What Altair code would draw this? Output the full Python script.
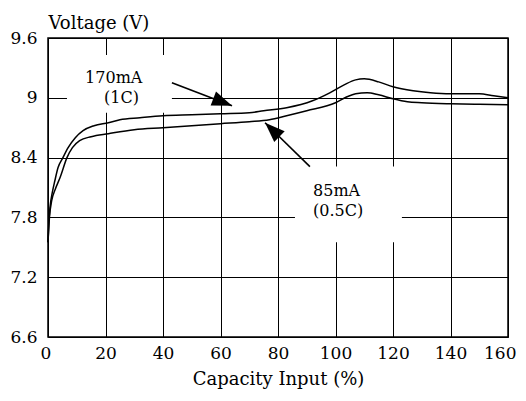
import altair as alt
import pandas as pd

# 170mA (1C) curve
x_1c = [0, 0.3, 0.7, 1.5, 2.4, 3.5, 5.2, 7, 9.5, 12.2, 16, 21, 25, 32, 40, 50, 60, 70, 75, 83, 92, 98, 103, 107, 110, 115, 120, 127, 133, 140, 150, 155, 160]
v_1c = [7.55, 7.75, 7.9, 8.05, 8.17, 8.3, 8.4, 8.5, 8.6, 8.67, 8.72, 8.75, 8.78, 8.80, 8.82, 8.83, 8.84, 8.85, 8.87, 8.90, 8.97, 9.05, 9.13, 9.18, 9.19, 9.16, 9.11, 9.07, 9.05, 9.04, 9.04, 9.02, 9.00]
# 85mA (0.5C) curve
x_05c = [0, 0.5, 1.3, 2.5, 4.2, 6.6, 8.5, 11, 15, 21, 30, 40, 50, 60, 70, 77, 83, 90, 100, 104, 107, 111, 115, 120, 125, 130, 140, 150, 160]
v_05c = [7.55, 7.8, 7.97, 8.08, 8.2, 8.4, 8.5, 8.57, 8.61, 8.64, 8.68, 8.70, 8.72, 8.74, 8.76, 8.78, 8.82, 8.87, 8.95, 9.01, 9.04, 9.05, 9.03, 8.99, 8.96, 8.95, 8.94, 8.935, 8.93]

x_ticks = [0, 20, 40, 60, 80, 100, 120, 140, 160]
y_ticks = [6.6, 7.2, 7.8, 8.4, 9.0, 9.6]

# annotation label boxes (white) and texts
box_x = [6.6, 85.9]
box_x2 = [43.1, 123.1]
box_y = [9.43, 8.31]
box_y2 = [8.85, 7.55]

label_text = ["170mA", "(1C)", "85mA", "(0.5C)"]
label_x = [12.9, 19.5, 92.2, 92.2]
label_y = [9.15, 8.95, 8.01, 7.81]

arrow_x = [43.1, 91.1]
arrow_y = [9.15, 8.31]
arrow_tx = [64.0, 75.5]
arrow_ty = [8.92, 8.75]
arrow_angle = [21, 224]

FONT = "DejaVu Serif"

curves = pd.concat([
    pd.DataFrame({"x": x_1c, "v": v_1c, "s": "1C"}),
    pd.DataFrame({"x": x_05c, "v": v_05c, "s": "0.5C"}),
])
boxes = pd.DataFrame({"x": box_x, "x2": box_x2, "y": box_y, "y2": box_y2})
labels = pd.DataFrame({"t": label_text, "x": label_x, "y": label_y})
arrows = pd.DataFrame({"x": arrow_x, "y": arrow_y, "tx": arrow_tx, "ty": arrow_ty, "a": arrow_angle})

xs = alt.Scale(domain=[0, 160], nice=False)
ys = alt.Scale(domain=[6.6, 9.6], nice=False)

xaxis = alt.Axis(values=x_ticks, title="Capacity Input (%)", tickSize=0, labelPadding=8,
                 titlePadding=9, domain=False, grid=True, labelFontSize=17, titleFontSize=18,
                 labelFlush=True, labelFlushOffset=8, labelOverlap=False,
                 labelFont=FONT, titleFont=FONT, labelColor="black", titleColor="black",
                 titleFontWeight="normal", gridColor="black", gridOpacity=1, gridWidth=1)
yaxis = alt.Axis(values=y_ticks, title="Voltage (V)", format="~g", tickSize=0, labelPadding=11,
                 domain=False, grid=True, labelFontSize=17, titleFontSize=18,
                 labelFlush=False, labelOverlap=False,
                 labelFont=FONT, titleFont=FONT, labelColor="black", titleColor="black",
                 titleFontWeight="normal", titleAngle=0, titleAlign="left", titleBaseline="bottom",
                 titleX=0, titleY=-6, gridColor="black", gridOpacity=1, gridWidth=1)

base_axes = alt.Chart(curves).mark_line(opacity=0).encode(
    x=alt.X("x:Q", scale=xs, axis=xaxis),
    y=alt.Y("v:Q", scale=ys, axis=yaxis),
)

box_layer = alt.Chart(boxes).mark_rect(color="white").encode(
    x=alt.X("x:Q", scale=xs), x2="x2", y=alt.Y("y:Q", scale=ys), y2="y2"
)

lines = alt.Chart(curves).mark_line(color="black", strokeWidth=1.5, interpolate="monotone").encode(
    x=alt.X("x:Q", scale=xs),
    y=alt.Y("v:Q", scale=ys),
    detail="s:N",
)

arrow_lines = alt.Chart(arrows).mark_rule(color="black", strokeWidth=1.6).encode(
    x=alt.X("x:Q", scale=xs), y=alt.Y("y:Q", scale=ys), x2="tx", y2="ty"
)

arrow_heads = alt.Chart(arrows).mark_point(
    shape="M0,0 L-2,-0.75 L-2,0.75 Z", filled=True, color="black", opacity=1, size=400
).encode(
    x=alt.X("tx:Q", scale=xs), y=alt.Y("ty:Q", scale=ys), angle=alt.Angle("a:Q", scale=None)
)

texts = alt.Chart(labels).mark_text(align="left", baseline="alphabetic", font=FONT,
                                    fontSize=16, color="black").encode(
    x=alt.X("x:Q", scale=xs), y=alt.Y("y:Q", scale=ys), text="t:N"
)

chart = alt.layer(base_axes, box_layer, lines, arrow_lines, arrow_heads, texts).properties(
    width=460, height=299,
    autosize=alt.AutoSizeParams(type="none"),
    padding={"left": 40, "top": 30, "right": 10, "bottom": 56},
    background="white",
).configure_view(stroke="black", strokeWidth=1.5)

chart.save("out.html", embed_options={"renderer": "svg", "actions": False})
